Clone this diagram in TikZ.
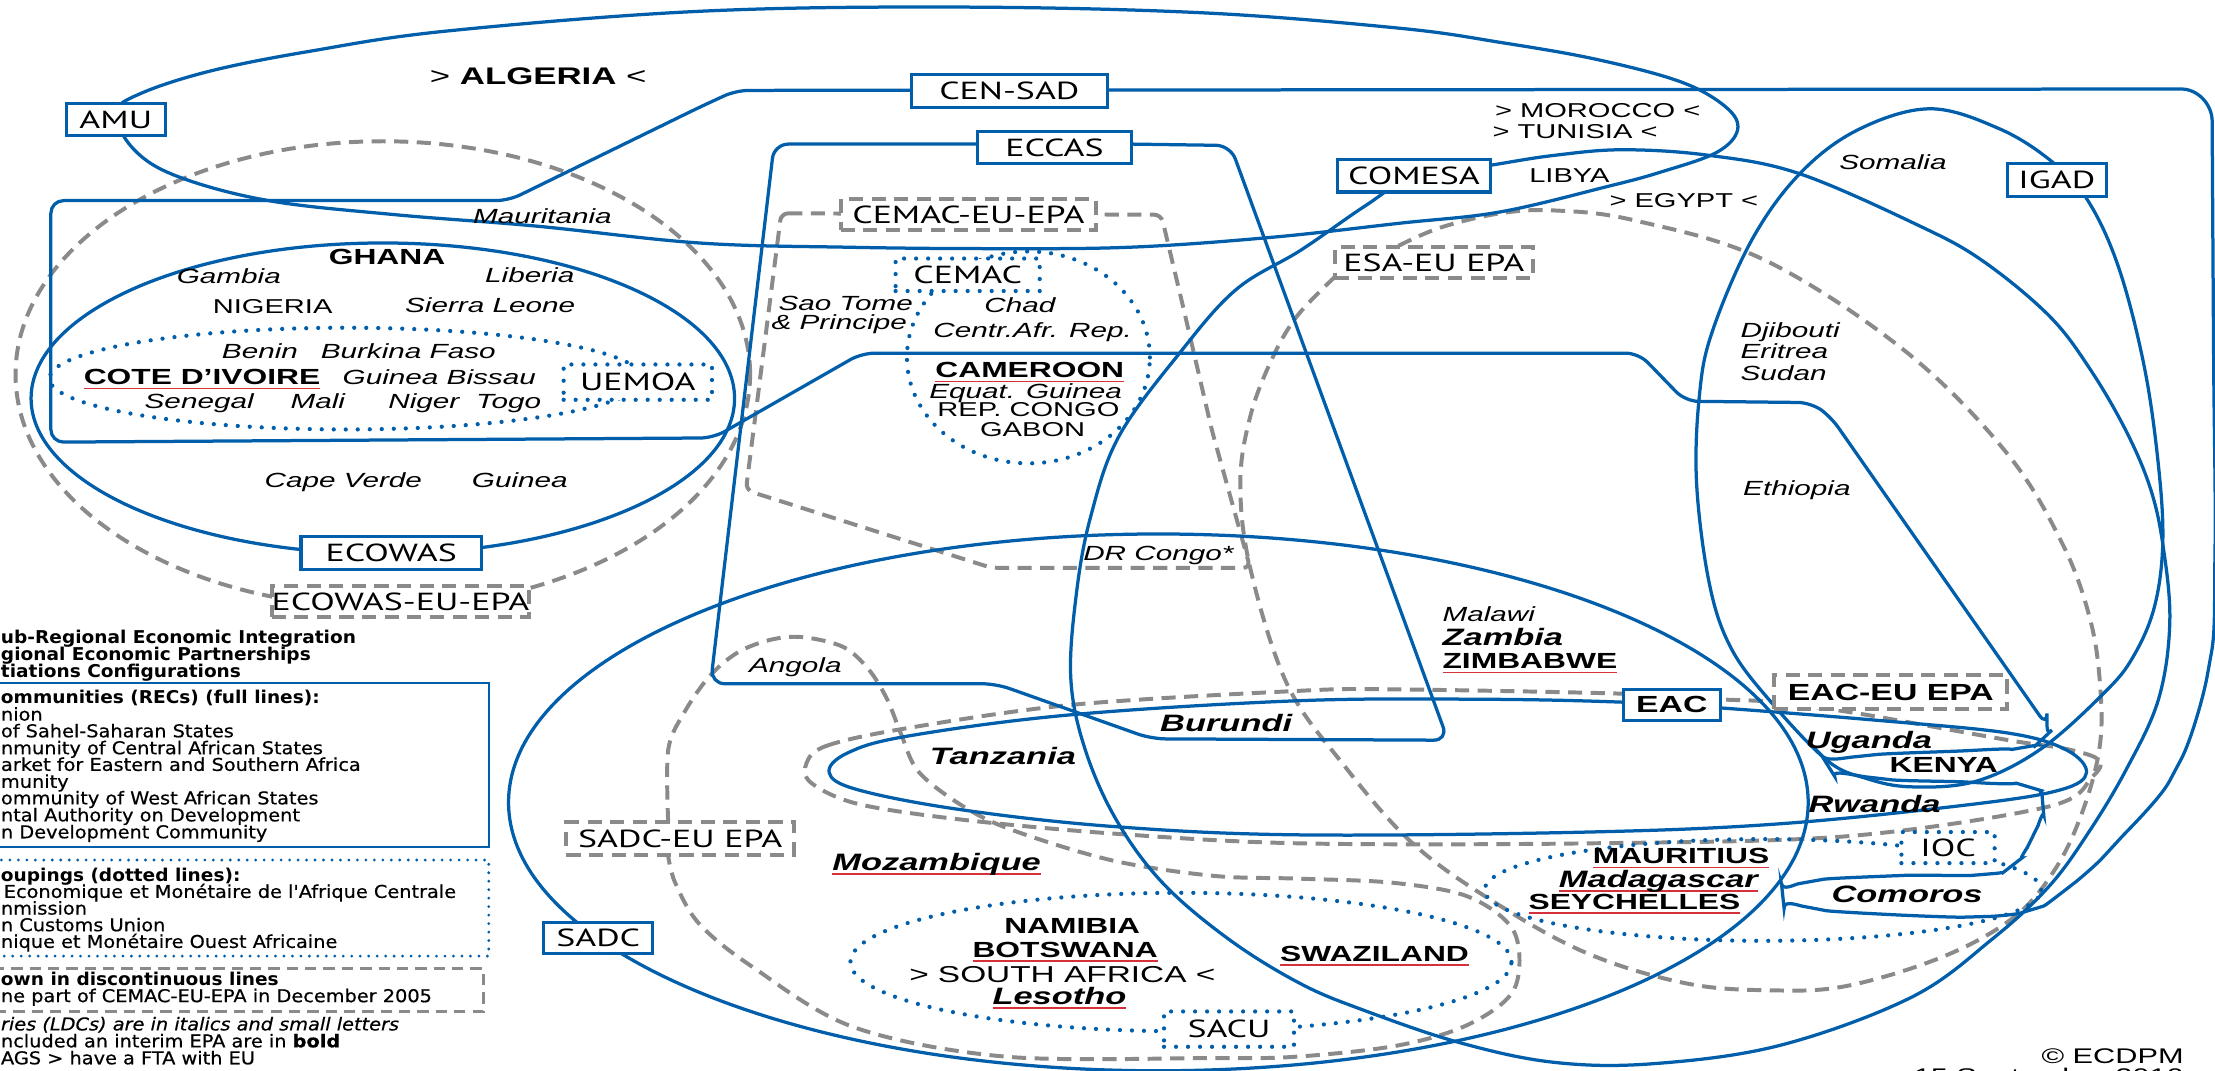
\documentclass[tikz,border=0pt]{standalone}
\usepackage{fontspec}
\newfontfamily\cf[FakeStretch=1.45]{Liberation Sans}
\newfontfamily\boxf[FakeStretch=1.45]{PT Sans}
\newfontfamily\legf[FakeStretch=1.094,FakeBold=0.6]{DejaVu Sans}
\newfontfamily\legfb[FakeStretch=1.05]{DejaVu Sans}
\definecolor{cb}{RGB}{0,94,170}
\definecolor{cg}{RGB}{138,138,138}
\definecolor{cr}{RGB}{214,48,58}
\newcommand\ru[1]{\setbox0\hbox{#1}\rlap{\color{cr}\rule[-3.2pt]{\wd0}{1.3pt}}\box0}
\begin{document}
\begin{tikzpicture}[x=1pt,y=-1pt,
 bl/.style={draw=cb, line width=2.3pt},
 gd/.style={draw=cg, line width=2.8pt, dash pattern=on 10pt off 6pt},
 dt/.style={draw=cb, line width=3pt, line cap=round, dash pattern=on 0pt off 8.5pt},
 lbl/.style={draw=cb, line width=2.3pt, fill=white, inner sep=0pt, font=\boxf\fontsize{17.5}{19}\selectfont},
 epabox/.style={draw=cg, line width=2.8pt, dash pattern=on 10pt off 6pt, fill=white, inner sep=0pt, font=\boxf\fontsize{17.5}{19}\selectfont},
 dbox/.style={dt, fill=white, inner sep=0pt, font=\boxf\fontsize{17.5}{19}\selectfont},
 tx/.style={inner sep=0pt, anchor=base, font=\cf\fontsize{14.2}{16}\selectfont},
 ti/.style={inner sep=0pt, anchor=base, font=\cf\itshape\fontsize{14.5}{16}\selectfont},
 tb/.style={inner sep=0pt, anchor=base, font=\cf\bfseries\fontsize{15.5}{17}\selectfont},
 tbi/.style={inner sep=0pt, anchor=base, font=\cf\bfseries\itshape\fontsize{16.8}{18}\selectfont},
 lg/.style={inner sep=0pt, anchor=base west, font=\legf\fontsize{12.5}{14}\selectfont},
 lgb/.style={inner sep=0pt, anchor=base west, font=\legfb\bfseries\fontsize{12.5}{14}\selectfont},
 lgi/.style={inner sep=0pt, anchor=base west, font=\legf\itshape\fontsize{12.5}{14}\selectfont},
]
\fill[white] (0,0) rectangle (1568,758);
\useasboundingbox (0,0) rectangle (1568,758);

% ---------- dashed EPA configurations ----------
\draw[gd] (271,265) ellipse [x radius=260pt, y radius=165pt];
\draw[gd, rounded corners=5pt] (553,151) -- (822,152) -- (837,215) -- (858,305) -- (885,402) -- (702,402) -- (528,347) -- cycle;
\draw[gd] plot[smooth, tension=0.6] coordinates {(990,174) (1020,161) (1062,151) (1101,149) (1157,156) (1249,184) (1348,248) (1420,320) (1460,385) (1480,440) (1487,490) (1486,531) (1474,575) (1455,615) (1426,649) (1376,677) (1307,698) (1252,701) (1193,696) (1124,675) (1060,640) (1000,597) (950,540) (911,484) (885,402) (878,342) (885,295) (900,255) (918,224) (945,196)};
\draw[gd] plot[smooth cycle, tension=0.55] coordinates {(571,540) (585,528) (639,516) (758,499) (920,489) (987,488) (1147,491) (1216,495) (1256,497) (1315,505) (1422,524) (1462,530) (1486,538) (1481,550) (1450,571) (1307,592) (1124,597) (920,597) (787,590) (679,580) (607,569) (574,554)};
\draw[gd] plot[smooth, tension=0.55] coordinates {(473,582) (473,531) (484,505) (502,479) (522,462) (545,453) (568,451) (597,458) (615,474) (628,495) (638,520) (650,546) (679,569) (715,587) (787,609) (859,620) (920,622) (987,625) (1040,635) (1072,660) (1072,700) (1040,725) (990,740) (918,748) (857,749) (712,748) (604,727) (532,684) (495,654) (478,625) (473,606)};

% ---------- RECs (full lines) ----------
% AMU
\draw[bl] plot[smooth cycle, tension=0.6] coordinates {(82,80) (100,66) (150,50) (221,36) (316,22) (495,8) (676,5) (850,9) (991,20) (1062,30) (1130,42) (1190,58) (1222,76) (1230,92) (1215,108) (1175,122) (1138,132) (1062,150) (991,158) (900,168) (800,175) (700,176) (600,175) (495,172) (379,160) (280,152) (190,142) (126,125) (95,106)};
% CEN-SAD
\draw[bl, rounded corners=9pt] (521,64) -- (1535,63)
  .. controls (1556,63) and (1566,74) .. (1566,95)
  -- plot[smooth, tension=0.55] coordinates {(1566,95) (1567,250) (1568,390) (1564,470) (1540,545) (1495,600) (1462,630) (1438,644) (1399,649) (1330,647) (1284,643) (1262,634) (1282,624) (1340,620) (1404,619) (1424,613) (1439,592) (1446,568) (1436,557) (1399,554) (1330,551) (1294,542) (1320,535) (1400,531) (1433,529) (1446,523) (1449,514)}
  -- (1296,295) -- (1282,285) -- (1193,284) -- (1160,250) -- (610,250) -- (505,310) -- (36,313) -- (36,142) -- (360,142) -- (495,76) -- cycle;
% ECCAS
\draw[bl, rounded corners=10pt] (692,102) -- (548,102) -- (503,484) -- (705,484) -- (815,523) -- (1025,524) -- (871,103) -- (801,102);
% COMESA
\draw[bl] plot[smooth cycle, tension=0.6] coordinates {(1000,126) (1055,117) (1100,110) (1149,106) (1210,110) (1274,123) (1359,160) (1404,185) (1451,224) (1480,262) (1505,305) (1522,345) (1531,385) (1536,440) (1528,495) (1505,545) (1478,590) (1450,628) (1410,665) (1353,706) (1260,740) (1170,753) (1100,752) (1033,738) (965,715) (920,696) (870,665) (823,625) (790,580) (768,530) (758,480) (762,420) (772,366) (792,309) (835,250) (875,205) (921,177) (966,146)};
% IGAD
\draw[bl] plot[smooth cycle, tension=0.6] coordinates {(1366,77) (1415,91) (1452,114) (1478,142) (1500,190) (1518,260) (1528,330) (1531,385) (1525,430) (1510,465) (1490,490) (1445,530) (1399,553) (1353,557) (1321,551) (1293,538) (1252,495) (1225,458) (1210,413) (1201,342) (1203,280) (1212,235) (1240,170) (1274,123) (1315,92)};
% EAC
\draw[bl] plot[smooth cycle, tension=0.6] coordinates {(587,547) (600,533) (643,521) (758,506) (920,496) (1050,495) (1147,497) (1216,501) (1330,510) (1422,519) (1463,531) (1477,547) (1459,559) (1399,569) (1262,583) (1124,589) (920,591) (787,585) (679,573) (607,559)};
% ECOWAS
\draw[bl] (271,282) ellipse [x radius=249pt, y radius=110pt];
% SADC
\draw[bl] (820,568) ellipse [x radius=460pt, y radius=190pt];

% ---------- other groupings (dotted) ----------
\draw[dt] (245,268) ellipse [x radius=210pt, y radius=36pt];
\draw[dt] (728,253) ellipse [x radius=86pt, y radius=75pt];
\draw[dt] (1248,630) ellipse [x radius=197pt, y radius=36pt];
\draw[dt] (836,681) ellipse [x radius=234pt, y radius=49pt];

% ---------- labels ----------
\node[lbl, minimum width=70pt, minimum height=23pt] (amu) at (82,84.5) {AMU};
\node[lbl, minimum width=139pt, minimum height=23pt] (censad) at (714.5,64.5) {CEN-SAD};
\node[lbl, minimum width=109pt, minimum height=23pt] (eccas) at (746.5,104.5) {ECCAS};
\node[lbl, minimum width=108pt, minimum height=23pt] (comesa) at (1001,124.5) {COMESA};
\node[lbl, minimum width=70pt, minimum height=23pt] (igad) at (1456,127.5) {IGAD};
\node[lbl, minimum width=128pt, minimum height=23pt] (ecowas) at (277,391.5) {ECOWAS};
\node[lbl, minimum width=69pt, minimum height=22pt, font=\cf\bfseries\fontsize{16.5}{18}\selectfont] (eac) at (1183.5,499) {EAC};
\node[lbl, minimum width=77pt, minimum height=22pt] (sadc) at (423.5,664) {SADC};

\node[epabox, minimum width=181pt, minimum height=22pt] (cemacepa) at (685.5,152) {CEMAC-EU-EPA};
\node[epabox, minimum width=140pt, minimum height=22pt] (esaepa) at (1015,186) {ESA-EU EPA};
\node[epabox, minimum width=181pt, minimum height=22pt] (ecowasepa) at (283.5,426) {ECOWAS-EU-EPA};
\node[epabox, minimum width=165pt, minimum height=24pt, font=\cf\bfseries\fontsize{16.5}{18}\selectfont] (eacepa) at (1338.5,490) {EAC-EU EPA};
\node[epabox, minimum width=161pt, minimum height=23pt] (sadcepa) at (481.5,593.5) {SADC-EU EPA};

\node[dbox, minimum width=102pt, minimum height=23pt] (cemac) at (685,194.5) {CEMAC};
\node[dbox, minimum width=105pt, minimum height=25pt] (uemoa) at (451.5,270.5) {UEMOA};
\node[dbox, minimum width=66pt, minimum height=22pt] (ioc) at (1379,600) {IOC};
\node[dbox, minimum width=92pt, minimum height=25pt] (sacu) at (870,728.5) {SACU};

% ---------- countries ----------
\node[tx, font=\cf\fontsize{17}{19}\selectfont] (algeria) at (381,60) {> \textbf{ALGERIA} <};
\node[tx] (morocco) at (1131,83) {> MOROCCO <};
\node[tx] (tunisia) at (1115,98) {> TUNISIA <};
\node[tx] (libya) at (1111,129) {LIBYA};
\node[tx] (egypt) at (1192,147) {> EGYPT <};
\node[ti] (somalia) at (1340,120) {Somalia};
\node[ti] (mauritania) at (384,158) {Mauritania};
\node[tb] (ghana) at (274,187.5) {GHANA};
\node[ti] (gambia) at (162,201) {Gambia};
\node[ti] (liberia) at (375,200) {Liberia};
\node[tx] (nigeria) at (193,222) {NIGERIA};
\node[ti] (sierra) at (347,221) {Sierra Leone};
\node[ti] (benin) at (184,254) {Benin};
\node[ti] (burkina) at (289,254) {Burkina Faso};
\node[tb] (cote) at (143,272.5) {\ru{COTE D’IVOIRE}};
\node[ti] (gbissau) at (311,272) {Guinea Bissau};
\node[ti] (senegal) at (141,289) {Senegal};
\node[ti] (mali) at (225,289) {Mali};
\node[ti] (niger) at (300,289) {Niger};
\node[ti] (togo) at (360,289) {Togo};
\node[ti] (capeverde) at (243,345) {Cape Verde};
\node[ti] (guinea) at (368,345) {Guinea};
\node[ti, anchor=base west] (saotome) at (551,220) {Sao Tome};
\node[ti, anchor=base west] (principe) at (546,233) {\& Principe};
\node[ti] (chad) at (722,221) {Chad};
\node[ti] (car) at (731,239) {Centr.Afr. Rep.};
\node[tb] (cameroon) at (729,267.5) {\ru{CAMEROON}};
\node[ti] (eqguinea) at (726,282) {Equat. Guinea};
\node[tx] (congo) at (728,295) {REP. CONGO};
\node[tx] (gabon) at (731,309) {GABON};
\node[ti] (drc) at (820,397) {DR Congo*};
\node[ti, anchor=base west] (djibouti) at (1232,239) {Djibouti};
\node[ti, anchor=base west] (eritrea) at (1232,254) {Eritrea};
\node[ti, anchor=base west] (sudan) at (1232,269) {Sudan};
\node[ti] (ethiopia) at (1272,351) {Ethiopia};
\node[ti, anchor=base west] (malawi) at (1021,440) {Malawi};
\node[tbi, anchor=base west] (zambia) at (1021,457) {Zambia};
\node[tb, anchor=base west] (zimbabwe) at (1021,473.5) {\ru{ZIMBABWE}};
\node[ti] (angola) at (563,476) {Angola};
\node[tbi] (burundi) at (868,518) {Burundi};
\node[tbi] (uganda) at (1323,530) {Uganda};
\node[tb] (kenya) at (1376,546.5) {KENYA};
\node[tbi] (tanzania) at (710,541) {Tanzania};
\node[tbi] (rwanda) at (1327,575) {Rwanda};
\node[tbi] (mozambique) at (663,616) {\ru{Mozambique}};
\node[tb] (mauritius) at (1190,611.5) {\ru{MAURITIUS}};
\node[tbi] (madagascar) at (1174,628) {\ru{Madagascar}};
\node[tb] (seychelles) at (1157,643.5) {\ru{SEYCHELLES}};
\node[tbi] (comoros) at (1350,639) {Comoros};
\node[tb] (namibia) at (759,660.5) {NAMIBIA};
\node[tb] (botswana) at (754,677.5) {\ru{BOTSWANA}};
\node[tx, font=\cf\fontsize{16.3}{18}\selectfont] (southafrica) at (752,695.5) {> SOUTH AFRICA <};
\node[tbi] (lesotho) at (750,711) {\ru{Lesotho}};
\node[tb] (swaziland) at (973,680.5) {\ru{SWAZILAND}};
\node[tx, anchor=base east, font=\cf\fontsize{15}{17}\selectfont] (ecdpm) at (1546,753) {© ECDPM};
\node[tx, anchor=base east, font=\cf\fontsize{15}{17}\selectfont] (date) at (1546,767) {15 September 2010};

% ---------- legend ----------
\node[lgb] (l1) at (0.5,455.4) {ub-Regional Economic Integration};
\node[lgb] (l2) at (0.5,467.4) {gional Economic Partnerships};
\node[lgb] (l3) at (0.5,479.4) {tiations Configurations};
\draw[draw=cb, line width=1.6pt] (-5,483.7) rectangle (346,599.4);
\node[lgb] (l4) at (0.5,498) {ommunities (RECs) (full lines):};
\node[lg] (l5) at (0.5,510.1) {nion};
\node[lg] (l6) at (0.5,521.9) {of Sahel-Saharan States};
\node[lg] (l7) at (0.5,533.9) {nmunity of Central African States};
\node[lg] (l8) at (0.5,545.7) {arket for Eastern and Southern Africa};
\node[lg] (l9) at (0.5,557.7) {munity};
\node[lg] (l10) at (0.5,569.4) {ommunity of West African States};
\node[lg] (l11) at (0.5,581.4) {ntal Authority on Development};
\node[lg] (l12) at (0.5,593.4) {n Development Community};
\draw[draw=cb, line width=2.2pt, line cap=round, dash pattern=on 0pt off 6pt] (-5,608.8) -- (346,608.8) -- (346,676.8) -- (-5,676.8);
\node[lgb] (l13) at (0.5,623.8) {oupings (dotted lines):};
\node[lg] (l14) at (2.5,635.6) {Economique et Monétaire de l'Afrique Centrale};
\node[lg] (l15) at (0.5,647.4) {nmission};
\node[lg] (l16) at (0.5,659.2) {n Customs Union};
\node[lg] (l17) at (0.5,671) {nique et Monétaire Ouest Africaine};
\draw[draw=cg, line width=2pt, dash pattern=on 8pt off 5pt] (-5,685.5) -- (342,685.5) -- (342,716) -- (-5,716);
\node[lgb] (l18) at (0.5,697.4) {own in discontinuous lines};
\node[lg] (l19) at (0.5,709.4) {ne part of CEMAC-EU-EPA in December 2005};
\node[lgi] (l20) at (0.5,729.4) {ries (LDCs) are in italics and small letters};
\node[lg] (l21) at (0.5,741.4) {ncluded an interim EPA are in \textbf{bold}};
\node[lg] (l22) at (0.5,753.4) {AGS > have a FTA with EU};
\end{tikzpicture}
\end{document}
